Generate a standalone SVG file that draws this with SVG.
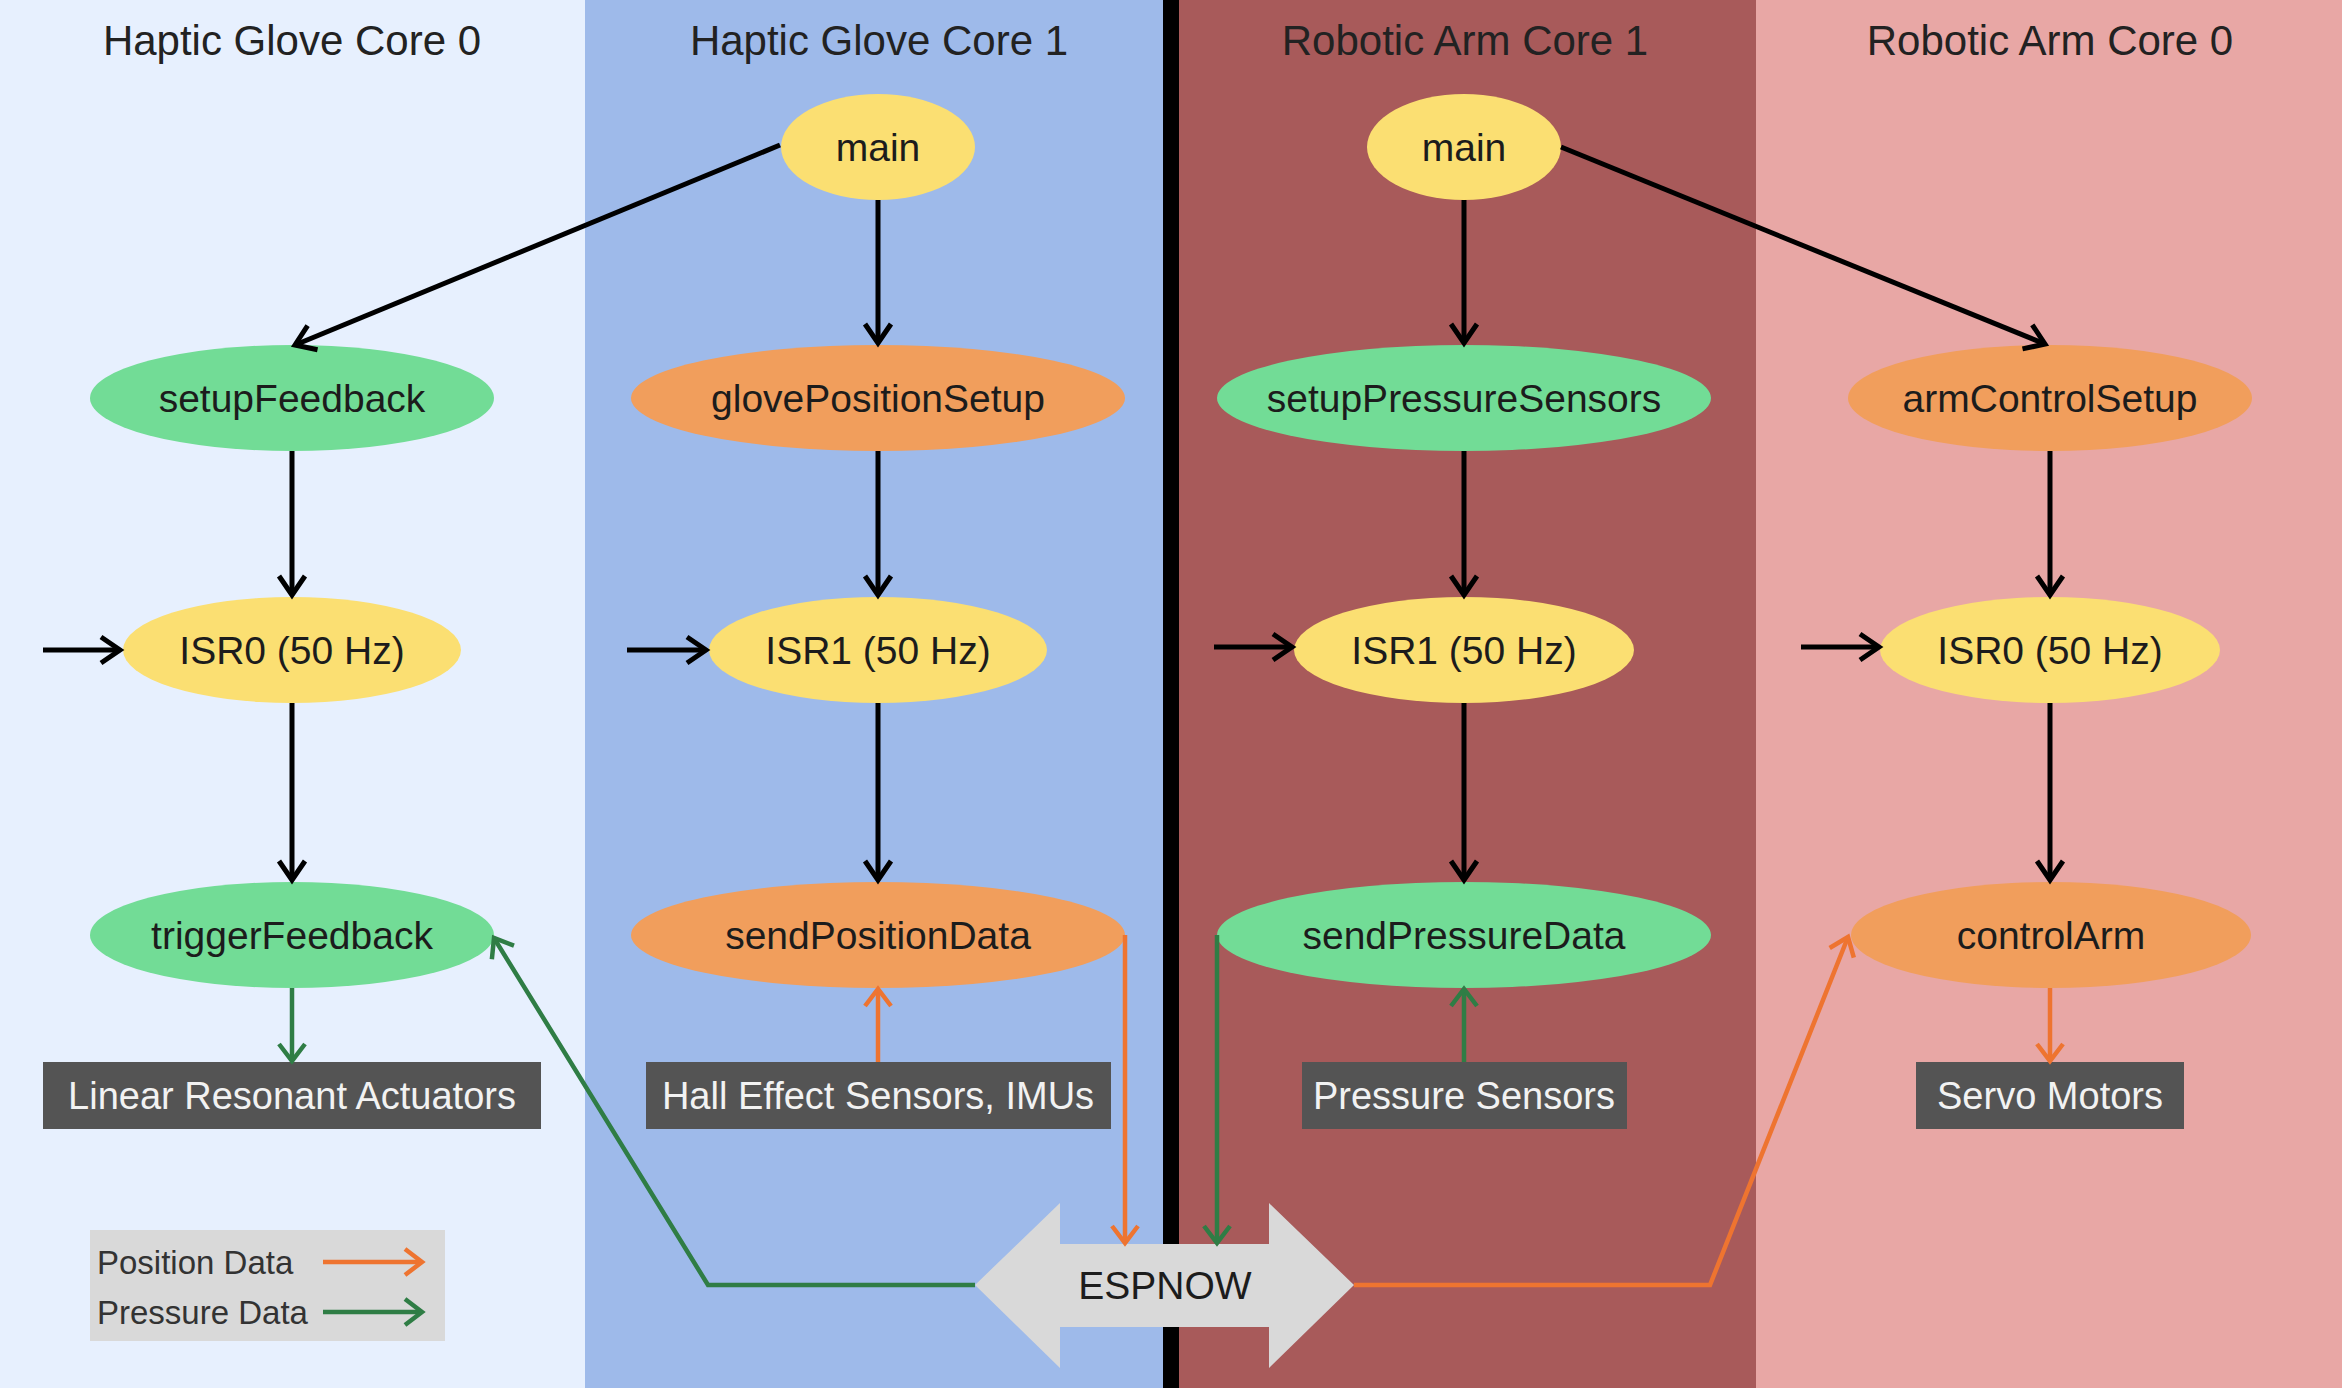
<svg xmlns="http://www.w3.org/2000/svg" width="2342" height="1388" viewBox="0 0 2342 1388">
<style>
text{font-family:"Liberation Sans",Arial,sans-serif;text-anchor:middle}
.title{font-size:42px;fill:#222}
.nt{font-size:39px;fill:#1c1c1c}
.bt{font-size:38px;fill:#f2f2f2}
.lt{font-size:33px;fill:#333;text-anchor:start}
.yel{fill:#FBDF72}
.grn{fill:#72DC96}
.org{fill:#F19E5C}
.box{fill:#545454}
.blk{fill:none;stroke:#000;stroke-width:5;marker-end:url(#ab)}
.og{fill:none;stroke:#EE7430;stroke-width:4.5;marker-end:url(#ao)}
.gg{fill:none;stroke:#2F7D45;stroke-width:4.5;marker-end:url(#ag)}
</style>
<defs>
<marker id="ab" markerUnits="userSpaceOnUse" markerWidth="40" markerHeight="40" refX="0" refY="0" orient="auto" overflow="visible"><path d="M-19,-13 L0,0 L-19,13" fill="none" stroke="#000" stroke-width="5"/></marker>
<marker id="ao" markerUnits="userSpaceOnUse" markerWidth="40" markerHeight="40" refX="0" refY="0" orient="auto" overflow="visible"><path d="M-17,-13 L0,0 L-17,13" fill="none" stroke="#EE7430" stroke-width="4.5"/></marker>
<marker id="ag" markerUnits="userSpaceOnUse" markerWidth="40" markerHeight="40" refX="0" refY="0" orient="auto" overflow="visible"><path d="M-17,-13 L0,0 L-17,13" fill="none" stroke="#2F7D45" stroke-width="4.5"/></marker>
</defs>
<g id="lanes">
<rect x="0" y="0" width="585" height="1388" fill="#E7F0FE"/>
<rect x="585" y="0" width="578" height="1388" fill="#9EBAEA"/>
<rect x="1163" y="0" width="16" height="1388" fill="#000"/>
<rect x="1179" y="0" width="577" height="1388" fill="#A85A5A"/>
<rect x="1756" y="0" width="586" height="1388" fill="#E8A7A5"/>
<text class="title" x="292" y="55">Haptic Glove Core 0</text>
<text class="title" x="879" y="55">Haptic Glove Core 1</text>
<text class="title" x="1465" y="55">Robotic Arm Core 1</text>
<text class="title" x="2050" y="55">Robotic Arm Core 0</text>
</g>
<g id="espnow"><path d="M975,1285 L1060,1203 L1060,1244 L1269,1244 L1269,1203 L1354,1285 L1269,1368 L1269,1327 L1060,1327 L1060,1368 Z" fill="#D9D9D9"/><text class="nt" x="1165" y="1299">ESPNOW</text></g>
<g id="g-main"><ellipse class="yel" cx="878" cy="147" rx="97" ry="53"/><text class="nt" x="878" y="161">main</text></g>
<g id="setupFeedback"><ellipse class="grn" cx="292" cy="398" rx="202" ry="53"/><text class="nt" x="292" y="412">setupFeedback</text></g>
<g id="glovePositionSetup"><ellipse class="org" cx="878" cy="398" rx="247" ry="53"/><text class="nt" x="878" y="412">glovePositionSetup</text></g>
<g id="g-isr0"><ellipse class="yel" cx="292" cy="650" rx="169" ry="53"/><text class="nt" x="292" y="664">ISR0 (50 Hz)</text></g>
<g id="g-isr1"><ellipse class="yel" cx="878" cy="650" rx="169" ry="53"/><text class="nt" x="878" y="664">ISR1 (50 Hz)</text></g>
<g id="triggerFeedback"><ellipse class="grn" cx="292" cy="935" rx="202" ry="53"/><text class="nt" x="292" y="949">triggerFeedback</text></g>
<g id="sendPositionData"><ellipse class="org" cx="878" cy="935" rx="247" ry="53"/><text class="nt" x="878" y="949">sendPositionData</text></g>
<g id="lra"><rect class="box" x="43" y="1062" width="498" height="67"/><text class="bt" x="292" y="1109">Linear Resonant Actuators</text></g>
<g id="hall"><rect class="box" x="646" y="1062" width="465" height="67"/><text class="bt" x="878" y="1109">Hall Effect Sensors, IMUs</text></g>
<g id="a-main"><ellipse class="yel" cx="1464" cy="147" rx="97" ry="53"/><text class="nt" x="1464" y="161">main</text></g>
<g id="setupPressureSensors"><ellipse class="grn" cx="1464" cy="398" rx="247" ry="53"/><text class="nt" x="1464" y="412">setupPressureSensors</text></g>
<g id="armControlSetup"><ellipse class="org" cx="2050" cy="398" rx="202" ry="53"/><text class="nt" x="2050" y="412">armControlSetup</text></g>
<g id="a-isr1"><ellipse class="yel" cx="1464" cy="650" rx="170" ry="53"/><text class="nt" x="1464" y="664">ISR1 (50 Hz)</text></g>
<g id="a-isr0"><ellipse class="yel" cx="2050" cy="650" rx="170" ry="53"/><text class="nt" x="2050" y="664">ISR0 (50 Hz)</text></g>
<g id="sendPressureData"><ellipse class="grn" cx="1464" cy="935" rx="247" ry="53"/><text class="nt" x="1464" y="949">sendPressureData</text></g>
<g id="controlArm"><ellipse class="org" cx="2051" cy="935" rx="200" ry="53"/><text class="nt" x="2051" y="949">controlArm</text></g>
<g id="pressureSensors"><rect class="box" x="1302" y="1062" width="325" height="67"/><text class="bt" x="1464" y="1109">Pressure Sensors</text></g>
<g id="servo"><rect class="box" x="1916" y="1062" width="268" height="67"/><text class="bt" x="2050" y="1109">Servo Motors</text></g>
<g id="legend">
<rect x="90" y="1230" width="355" height="111" fill="#D9D9D9"/>
<text class="lt" x="97" y="1274">Position Data</text>
<text class="lt" x="97" y="1324">Pressure Data</text>
<path class="og" d="M323,1262 L422,1262"/>
<path class="gg" d="M323,1312 L422,1312"/>
</g>
<g id="connectors">
<path class="blk" d="M780,145 L295,345"/>
<path class="blk" d="M878,200 L878,343"/>
<path class="blk" d="M292,451 L292,595"/>
<path class="blk" d="M878,451 L878,595"/>
<path class="blk" d="M292,703 L292,880"/>
<path class="blk" d="M878,703 L878,880"/>
<path class="blk" d="M1464,200 L1464,343"/>
<path class="blk" d="M1561,147 L2045,344"/>
<path class="blk" d="M1464,451 L1464,595"/>
<path class="blk" d="M2050,451 L2050,595"/>
<path class="blk" d="M1464,703 L1464,880"/>
<path class="blk" d="M2050,703 L2050,880"/>
<path class="blk" d="M43,650 L120,650"/>
<path class="blk" d="M627,650 L706,650"/>
<path class="blk" d="M1214,647 L1292,647"/>
<path class="blk" d="M1801,647 L1879,647"/>
<path class="gg" d="M292,988 L292,1061"/>
<path class="og" d="M878,1062 L878,989"/>
<path class="gg" d="M1464,1062 L1464,989"/>
<path class="og" d="M2050,988 L2050,1061"/>
<path class="og" d="M1125,935 L1125,1243"/>
<path class="gg" d="M1217,935 L1217,1243"/>
<path class="gg" d="M975,1285 L708,1285 L494,938"/>
<path class="og" d="M1354,1285 L1710,1285 L1848,937"/>
</g>
</svg>
